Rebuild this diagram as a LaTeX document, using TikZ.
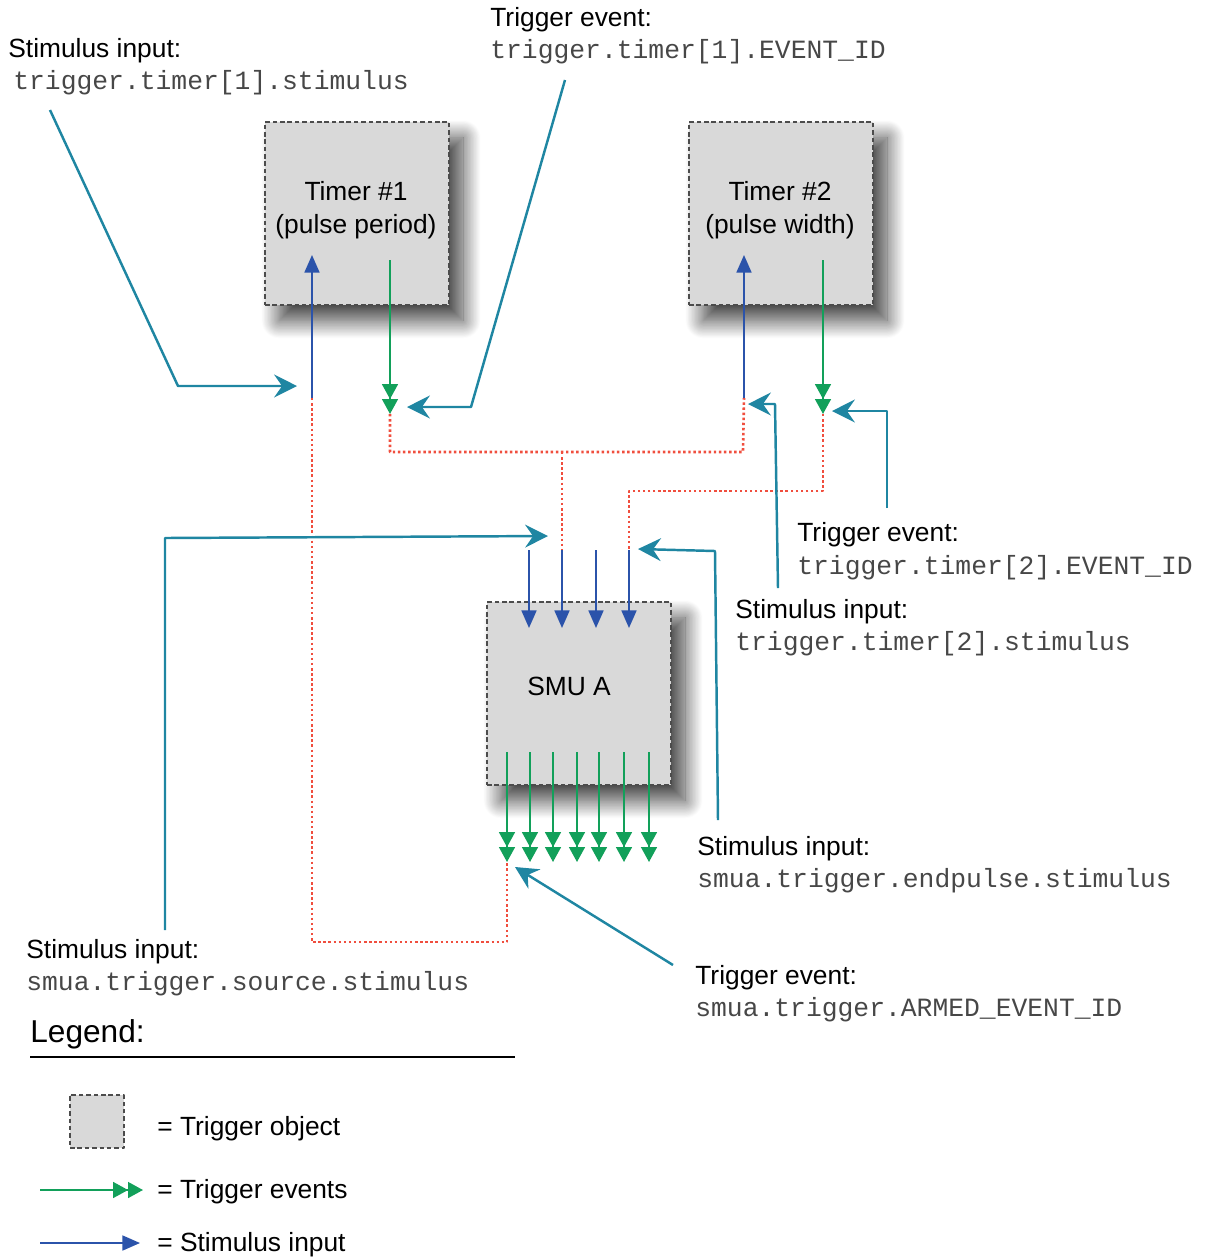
\documentclass[tikz,border=0pt]{standalone}
\usepackage{fontspec}
\setmainfont{Liberation Sans}
\setmonofont{Liberation Mono}
\usetikzlibrary{arrows.meta,shadows.blur}

\definecolor{boxgray}{HTML}{D9D9D9}
\definecolor{evtgreen}{HTML}{12A05A}
\definecolor{stimblue}{HTML}{2B53AA}
\definecolor{callteal}{HTML}{1F86A2}
\definecolor{linkred}{HTML}{F04E3E}

\tikzset{
  trigobj/.style={draw=black!70, dash pattern=on 2.6pt off 1.6pt, line width=0.7pt,
    fill=boxgray, minimum width=3.68cm, minimum height=3.66cm, inner sep=0pt},
  shade/.style={blur shadow={shadow xshift=8pt, shadow yshift=-9pt,
    shadow blur radius=10pt, shadow blur steps=30, shadow opacity=75}},
  evt/.style={evtgreen, line width=1.1pt,
    -{Triangle[width=9pt,length=8.5pt,sep=0pt]Triangle[width=9pt,length=8.5pt,sep=0pt]}},
  stim/.style={stimblue, line width=1.1pt, -{Triangle[width=8.5pt,length=10pt]}},
  callout/.style={callteal, line width=1.4pt, -{Stealth[width=13pt,length=13pt,inset=4.5pt]}},
  link/.style={linkred, line width=1.5pt, dash pattern=on 1.4pt off 1.5pt},
  lbl/.style={anchor=west, inner sep=0pt, font=\fontsize{15}{18}\selectfont},
  code/.style={anchor=west, inner sep=0pt, text=black!72, font=\fontsize{15}{18}\selectfont\ttfamily},
}

\begin{document}
\begin{tikzpicture}[x=0.02cm,y=-0.02cm,line join=round]

\useasboundingbox (0,0) rectangle (1215,1259);

% trigger objects
\node[trigobj,shade] (tmr1) at (357,213.5) {};
\node[trigobj,shade] (tmr2) at (781,213.5) {};
\node[trigobj,shade] (smua) at (579,693.5) {};

\node[align=center,font=\fontsize{15}{18.5}\selectfont] (tmr1txt) at (356,210) {Timer \#1\\(pulse period)};
\node[align=center,font=\fontsize{15}{18.5}\selectfont] (tmr2txt) at (780,210) {Timer \#2\\(pulse width)};
\node[font=\fontsize{15}{18}\selectfont] (smuatxt) at (569,686) {SMU A};

% ports
\coordinate (t1stimA) at (312,398);
\coordinate (t1stimB) at (312,255);
\coordinate (t1evtA) at (390,260);
\coordinate (t1evtB) at (390,414);
\coordinate (t2stimA) at (744,398);
\coordinate (t2stimB) at (744,255);
\coordinate (t2evtA) at (823,260);
\coordinate (t2evtB) at (823,414);

% links
\draw[link] (t1stimA) -- (312,942) -- (507,942) -- (507,862);
\draw[link] (t1evtB) -- (390,452) -- (743,452) -- (t2stimA);
\draw[link] (562,452) -- (562,550);
\draw[link] (t2evtB) -- (823,491) -- (629,491) -- (629,550);

% timer arrows
\draw[stim] (t1stimA) -- (t1stimB);
\draw[evt] (t1evtA) -- (t1evtB);
\draw[stim] (t2stimA) -- (t2stimB);
\draw[evt] (t2evtA) -- (t2evtB);

% smu arrows
\foreach \x in {529,562,596,629}{
    \draw[stim] (\x,550) -- (\x,628);
}
\foreach \x in {507,530,553,577,599,624,649}{
    \draw[evt] (\x,752) -- (\x,862);
}

% callout ends
\coordinate (c1a) at (50,110);   \coordinate (c1b) at (297,386);
\coordinate (c2a) at (565,80);   \coordinate (c2b) at (407,407);
\coordinate (c3a) at (778,588);  \coordinate (c3b) at (748,404);
\coordinate (c4a) at (887,508);  \coordinate (c4b) at (832,411);
\coordinate (c5a) at (165,930);  \coordinate (c5b) at (548,536);
\coordinate (c6a) at (718,820);  \coordinate (c6b) at (638,549);
\coordinate (c7a) at (673,965);  \coordinate (c7b) at (515,867);

\draw[callout] (c1a) -- (178,386) -- (c1b);
\draw[callout] (c2a) -- (471,407) -- (c2b);
\draw[callout] (c3a) -- (775,404) -- (c3b);
\draw[callout] (c4a) -- (887,411) -- (c4b);
\draw[callout] (c5a) -- (165,538) -- (c5b);
\draw[callout] (c6a) -- (715,551) -- (c6b);
\draw[callout] (c7a) -- (c7b);

% labels
\node[lbl] (l1) at (8,51) {Stimulus input:};
\node[code] (l1c) at (13,83) {trigger.timer[1].stimulus};
\node[lbl] (l2) at (490,20) {Trigger event:};
\node[code] (l2c) at (490,52) {trigger.timer[1].EVENT\_ID};
\node[lbl] (l3) at (797,535) {Trigger event:};
\node[code] (l3c) at (797,568) {trigger.timer[2].EVENT\_ID};
\node[lbl] (l4) at (735,612) {Stimulus input:};
\node[code] (l4c) at (735,644) {trigger.timer[2].stimulus};
\node[lbl] (l5) at (697,849) {Stimulus input:};
\node[code] (l5c) at (697,881) {smua.trigger.endpulse.stimulus};
\node[lbl] (l6) at (26,952) {Stimulus input:};
\node[code] (l6c) at (26,984) {smua.trigger.source.stimulus};
\node[lbl] (l7) at (695,978) {Trigger event:};
\node[code] (l7c) at (695,1010) {smua.trigger.ARMED\_EVENT\_ID};

% legend
\node[lbl,font=\fontsize{18}{21}\selectfont] (leg) at (30,1034) {Legend:};
\coordinate (legL) at (30,1057);
\coordinate (legR) at (515,1057);
\draw[line width=1.2pt] (legL) -- (legR);

\node[trigobj,minimum width=1.08cm,minimum height=1.06cm] (legbox) at (97,1121.5) {};
\node[lbl] (legbox txt) at (157,1129) {= Trigger object};

\coordinate (legevtA) at (40,1190);
\coordinate (legevtB) at (143,1190);
\draw[evt] (legevtA) -- (legevtB);
\node[lbl] (legevt txt) at (157,1192) {= Trigger events};

\coordinate (legstimA) at (40,1243);
\coordinate (legstimB) at (140,1243);
\draw[stim] (legstimA) -- (legstimB);
\node[lbl] (legstim txt) at (157,1245) {= Stimulus input};

\end{tikzpicture}
\end{document}
